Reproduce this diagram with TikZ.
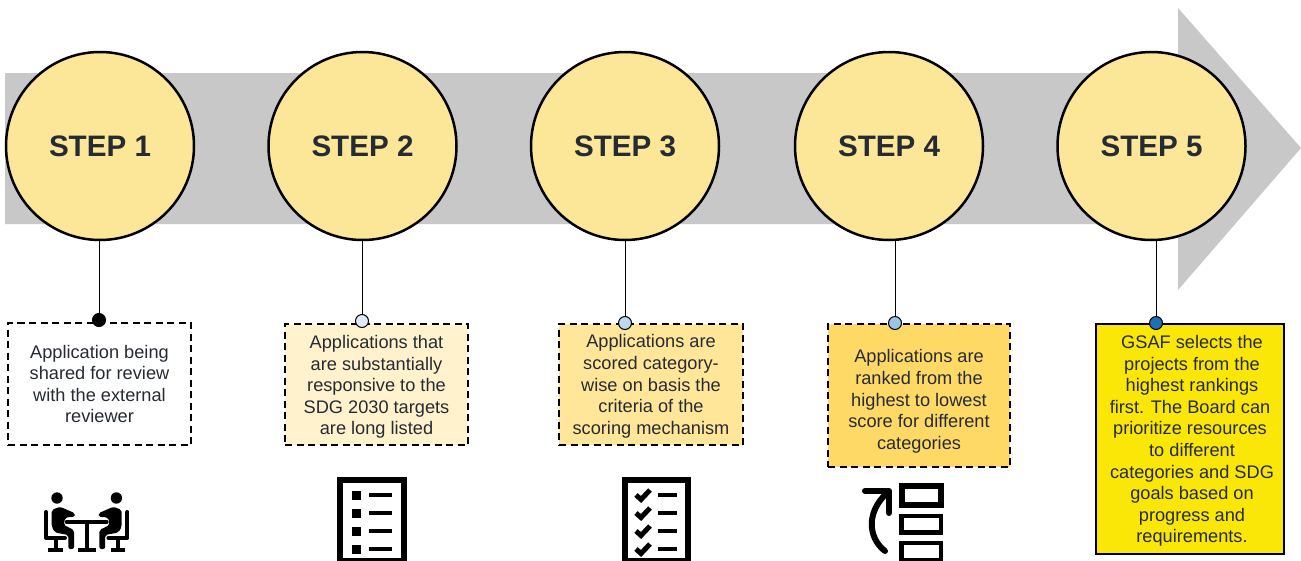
\documentclass[tikz,border=0pt]{standalone}
\usepackage{fontspec}
\setmainfont{Liberation Sans}
\definecolor{band}{HTML}{C8C8C8}
\definecolor{disc}{HTML}{FCE698}
\definecolor{ink}{HTML}{262B33}
\definecolor{tint 2}{HTML}{FFF2CC}
\definecolor{tint 3}{HTML}{FFE699}
\definecolor{tint 4}{HTML}{FFD966}
\definecolor{tint 5}{HTML}{FAE607}
\definecolor{pin 2}{HTML}{DEEBF7}
\definecolor{pin 3}{HTML}{BDD7EE}
\definecolor{pin 4}{HTML}{9DC3E6}
\definecolor{pin 5}{HTML}{1F6FB5}
\newcommand{\drop}[1]{\rule{0pt}{#1}}
\tikzset{
  every step/.style={circle, draw=black, line width=2.5pt, fill=disc, minimum size=188pt,
    inner sep=0pt, text=ink, font=\fontsize{29.6}{32}\selectfont\bfseries},
  every note/.style={rectangle, draw=black, line width=2.2pt, dash pattern=on 7pt off 4.5pt,
    inner sep=0pt, text=ink, align=center, font=\fontsize{18.2}{21.6}\selectfont},
  note 1/.style={fill=white, minimum width=183pt, minimum height=122pt},
  note 2/.style={fill=tint 2, minimum width=183pt, minimum height=121pt},
  note 3/.style={fill=tint 3, minimum width=184pt, minimum height=121pt},
  note 4/.style={fill=tint 4, minimum width=182pt, minimum height=143pt},
  note 5/.style={fill=tint 5, solid, minimum width=188pt, minimum height=230pt},
  every dot/.style={circle, draw=black, line width=1pt, minimum size=13pt, inner sep=0pt},
  icon/.style={draw=black, line width=6.5pt},
  stroke/.style={draw=black, line width=4pt, line cap=round, line join=round}
}
\begin{document}
\begin{tikzpicture}[x=1pt, y=-1pt]
        \clip (0,0) rectangle (1301,560);
        \fill [band] (5,73) -- (1178,73) -- (1178,8) -- (1301,148) -- (1178,290) -- (1178,224) -- (5,224) -- cycle;
        \foreach \m/\x [count=\y] in {1/100,2/362.5,3/625,4/889,5/1151.5}
          \node [every step/.try] (step-\m) at (\x,146) {STEP \m};
        \node [every note/.try, note 1/.try] (note-1) at (99.5,384) {Application being\\shared for review\\with the external\\reviewer};
        \node [every note/.try, note 2/.try] (note-2) at (376.5,384.5) {\drop{18pt}Applications that\\are substantially\\responsive to the\\SDG 2030 targets\\are long listed};
        \node [every note/.try, note 3/.try] (note-3) at (651,384.5) {\drop{17pt}Applications are\\scored category-\\wise on basis the\\criteria of the\\scoring mechanism};
        \node [every note/.try, note 4/.try] (note-4) at (919,395.5) {\drop{25pt}Applications are\\ranked from the\\highest to lowest\\score for different\\categories};
        \node [every note/.try, note 5/.try] (note-5) at (1190,439) {\drop{17pt}\hspace*{4pt}GSAF selects the\\\hspace*{4pt}projects from the\\\hspace*{4pt}highest rankings\\first. The Board can\\prioritize resources\\\hspace*{4pt}to different\\\hspace*{4pt}categories and SDG\\\hspace*{4pt}goals based on\\\hspace*{4pt}progress and\\\hspace*{4pt}requirements.};
        \foreach \m/\x/\y/\c in {1/99/320/black,2/362/321/pin 2,3/625/323/pin 3,4/895/323/pin 4,5/1156/323/pin 5}
          \node [every dot/.try, fill=\c] (dot-\m) at (\x,\y) {};
        \foreach \i in {1,2,...,5}
          \draw [line width=1pt] (dot-\i) -- (dot-\i |- step-\i.south);
        % meeting
        \foreach \s in {1,-1} {
          \begin{scope}[shift={(86.7,0)}, xscale=\s]
            \fill (-29.7,498) circle (5.7);
            \fill [rounded corners=2pt] (-35,510) -- (-26.7,506.7) -- (-11.7,513.3) -- (-11.7,516.7) -- (-21.5,517.5) -- (-23,525) -- (-12.7,530) -- (-12.7,549) -- (-18.4,549) -- (-18.4,535) -- (-31.7,532.5) -- (-35,526.7) -- cycle;
            \draw [stroke] (-40.7,512) -- (-40.7,538) -- (-21.7,538);
            \draw [stroke, line cap=butt] (-31,538) -- (-31,549);
            \draw [stroke, line cap=butt] (-38.4,549.5) -- (-24,549.5);
            \draw [stroke] (-20,522) -- (0,522);
          \end{scope}
        }
        \draw [stroke, line cap=butt] (86.7,522) -- (86.7,549);
        \draw [stroke, line cap=butt] (77.7,549.5) -- (95.7,549.5);
        % list
        \draw [icon] (340.2,480.2) rectangle (403.8,561.5);
        \foreach \y in {495,513,531,549} {
          \fill (352,\y-4.5) rectangle (361,\y+4.5);
          \draw [line width=4pt] (369,\y) -- (392,\y);
        }
        % checklist
        \draw [icon] (625.2,480.2) rectangle (687.8,561.5);
        \foreach \y in {495,513,531,549} {
          \draw [line width=5pt] (636,\y) -- (641,\y+4.5) -- (650,\y-5);
          \draw [line width=4pt] (658,\y) -- (677,\y);
        }
        % ranking
        \draw [line width=6pt] (902,486) rectangle (941,504.5);
        \draw [line width=4.5pt] (901.5,516) rectangle (941,532.5);
        \draw [line width=4.5pt] (901.5,543) rectangle (941,560);
        \draw [stroke, line width=6pt] (865,491) -- (889,491) -- (889,513);
        \draw [stroke, line width=6pt] (885,551) .. controls (868,538) and (866,512) .. (887,493);
\end{tikzpicture}
\end{document}
